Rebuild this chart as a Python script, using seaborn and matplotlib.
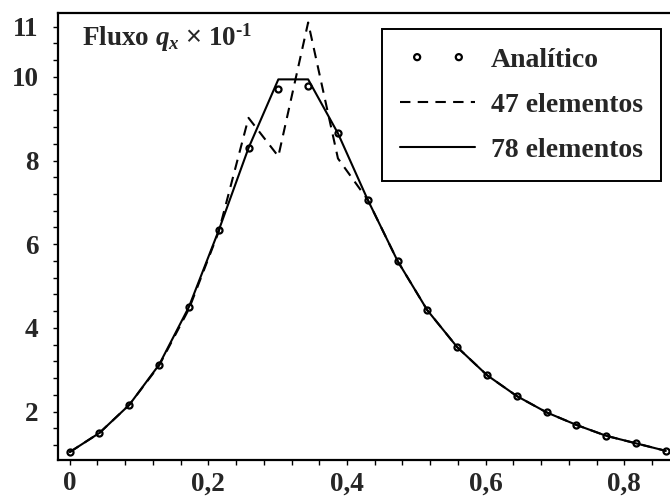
import matplotlib
matplotlib.use("Agg")
import matplotlib.pyplot as plt
import seaborn as sns
import pandas as pd
from matplotlib.ticker import FixedLocator, FuncFormatter
from matplotlib.collections import PathCollection
from matplotlib.legend_handler import HandlerPathCollection

# ---- data ----
x_pos = [0.000, 0.043, 0.086, 0.129, 0.172, 0.215, 0.258, 0.301, 0.344, 0.387, 0.430,
         0.473, 0.516, 0.559, 0.602, 0.645, 0.688, 0.731, 0.774, 0.817, 0.860]
analitico = [1.03, 1.49, 2.16, 3.12, 4.50, 6.33, 8.30, 9.72, 9.77, 8.65, 7.06,
             5.60, 4.42, 3.54, 2.87, 2.37, 1.98, 1.68, 1.42, 1.24, 1.06]
el47 = [1.03, 1.49, 2.16, 3.10, 4.45, 6.30, 9.02, 8.10, 11.30, 8.05, 7.06,
        5.60, 4.42, 3.54, 2.87, 2.37, 1.98, 1.68, 1.42, 1.24, 1.06]
el78 = [1.03, 1.49, 2.16, 3.12, 4.50, 6.33, 8.30, 9.94, 9.94, 8.65, 7.06,
        5.60, 4.42, 3.54, 2.87, 2.37, 1.98, 1.68, 1.42, 1.24, 1.06]
series_labels = ["Analítico", "47 elementos", "78 elementos"]
x_major = [0, 0.2, 0.4, 0.6, 0.8]
x_minor = [i * 0.04 for i in range(22)]
y_tick_values = [2, 4, 6, 8, 10, 11.2]
y_tick_labels = ["2", "4", "6", "8", "10", "11"]
y_minor = [1.2 + 0.4 * i for i in range(26)]
title_text = "Fluxo $q_x$ $\\mathsf{\u00d7}$ 10$^{\\text{-1}}$"

df = pd.DataFrame({"x": x_pos, "an": analitico, "e47": el47, "e78": el78})

sns.set_style("ticks")
plt.rcParams["font.family"] = ["Liberation Serif", "DejaVu Sans"]
plt.rcParams["font.weight"] = "bold"
plt.rcParams["mathtext.fontset"] = "custom"
plt.rcParams["mathtext.rm"] = "Liberation Serif:bold"
plt.rcParams["mathtext.it"] = "Liberation Serif:italic:bold"
plt.rcParams["mathtext.bf"] = "Liberation Serif:bold"
plt.rcParams["mathtext.sf"] = "Liberation Sans:normal"

fig = plt.figure(figsize=(6.7, 5.03), dpi=100)
ax = fig.add_axes([0.0861, 0.0845, 0.9139, 0.8891])

sns.scatterplot(data=df, x="x", y="an", ax=ax, marker="o", s=19,
                facecolor="white", edgecolor="black", linewidth=1.6,
                label=series_labels[0], zorder=1)
sns.lineplot(data=df, x="x", y="e47", ax=ax, color="black", lw=1.5,
             label=series_labels[1], zorder=2)
ax.lines[-1].set_dashes((5, 3.5))
sns.lineplot(data=df, x="x", y="e78", ax=ax, color="black", lw=1.5,
             label=series_labels[2], zorder=3)

ax.set_xlim(-0.0173, 0.866)
ax.set_ylim(0.83, 11.52)
ax.set_xlabel("")
ax.set_ylabel("")

ax.xaxis.set_major_locator(FixedLocator(x_major))
ax.xaxis.set_minor_locator(FixedLocator(x_minor))
ax.xaxis.set_major_formatter(FuncFormatter(lambda v, p: f"{v:g}".replace(".", ",")))
ax.set_yticks(y_tick_values)
ax.set_yticklabels(y_tick_labels)
ax.yaxis.set_minor_locator(FixedLocator(y_minor))

for s in ["left", "bottom", "top"]:
    ax.spines[s].set_linewidth(1.6)
    ax.spines[s].set_color("black")
ax.spines["right"].set_visible(False)

ax.tick_params(which="both", direction="out", length=3.8, width=1.0, color="black",
               top=False, right=False)
ax.tick_params(axis="y", which="major", pad=10, labelsize=19.5)
ax.tick_params(axis="x", which="major", pad=4, labelsize=19.5)

ax.text(0.039, 0.9275, title_text, transform=ax.transAxes, fontsize=19.5,
        fontweight="bold", ha="left", va="baseline")

leg = ax.legend(loc="upper right", bbox_to_anchor=(0.985, 0.964), borderaxespad=0,
                fontsize=20, frameon=True, fancybox=False, edgecolor="black",
                handlelength=2.7, handletextpad=0.55, labelspacing=0.7,
                borderpad=0.65, scatterpoints=2, scatteryoffsets=[0.5],
                handler_map={PathCollection: HandlerPathCollection(marker_pad=0.6)})
leg.get_frame().set_linewidth(1.4)
leg.get_frame().set_alpha(1)
for t in leg.get_texts():
    t.set_fontweight("bold")

fig.savefig("out.png", dpi=100)
